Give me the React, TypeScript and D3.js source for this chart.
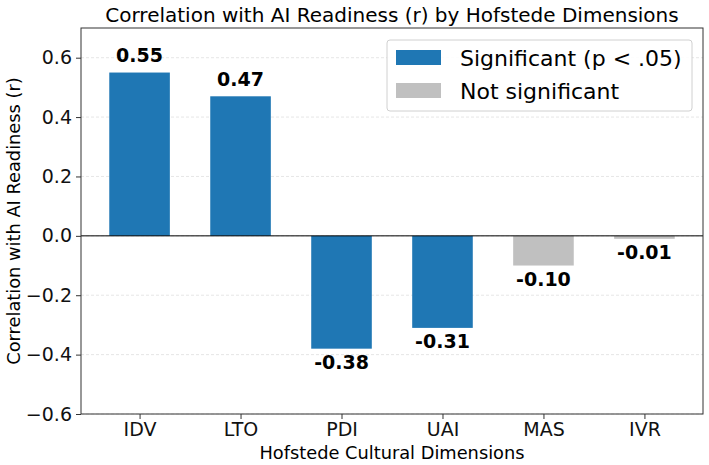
import React, { useEffect, useRef } from "react";
import * as d3 from "d3";

// Hofstede dimensions and their correlation with AI readiness
const dimensions = ["IDV", "LTO", "PDI", "UAI", "MAS", "IVR"];
const correlations = [0.55, 0.47, -0.38, -0.31, -0.1, -0.01];
const significant = [true, true, true, true, false, false];
const yTicks = [-0.6, -0.4, -0.2, 0.0, 0.2, 0.4, 0.6];
const legendLabels = ["Significant (p < .05)", "Not significant"];

const BLUE = "#1f77b4";
const GREY = "#c0c0c0";
const FONT = "DejaVu Sans, sans-serif";

export default function App() {
  const svgRef = useRef<SVGSVGElement>(null);

  useEffect(() => {
    const width = 709, height = 465;
    const margin = { top: 28, right: 6, bottom: 51, left: 81 };
    const svg = d3.select(svgRef.current).attr("width", width).attr("height", height);
    svg.selectAll("*").remove();

    const x = d3.scaleLinear().domain([-0.58, 5.58]).range([margin.left, width - margin.right]);
    const y = d3.scaleLinear().domain([-0.6, 0.7]).range([height - margin.bottom, margin.top]);
    const barW = 0.6;

    // dashed grid lines behind the bars
    svg.append("g").selectAll("line").data(yTicks).join("line")
      .attr("x1", x.range()[0]).attr("x2", x.range()[1])
      .attr("y1", d => y(d)).attr("y2", d => y(d))
      .attr("stroke", "#b0b0b0").attr("stroke-opacity", 0.4)
      .attr("stroke-dasharray", "3,2").attr("stroke-width", 0.8);

    // bars
    svg.append("g").selectAll("rect").data(correlations).join("rect")
      .attr("x", (d, i) => x(i - barW / 2))
      .attr("width", (d, i) => x(i + barW / 2) - x(i - barW / 2))
      .attr("y", d => y(Math.max(0, d)))
      .attr("height", d => Math.abs(y(d) - y(0)))
      .attr("fill", (d, i) => (significant[i] ? BLUE : GREY));

    // zero line
    svg.append("line")
      .attr("x1", x.range()[0]).attr("x2", x.range()[1])
      .attr("y1", y(0)).attr("y2", y(0))
      .attr("stroke", "black").attr("stroke-width", 1);

    // value labels
    svg.append("g").selectAll("text").data(correlations).join("text")
      .attr("x", (d, i) => x(i))
      .attr("y", d => (d >= 0 ? y(d) - 10.5 : y(d) + 20))
      .attr("text-anchor", "middle")
      .attr("font-family", FONT).attr("font-size", 19).attr("font-weight", "bold")
      .text(d => d.toFixed(2));

    // axes
    const xAxis = svg.append("g")
      .attr("transform", `translate(0,${height - margin.bottom})`)
      .call(d3.axisBottom(x).tickValues(d3.range(dimensions.length)).tickFormat(i => dimensions[i as number]).tickSize(5).tickPadding(4));
    const yAxis = svg.append("g")
      .attr("transform", `translate(${margin.left},0)`)
      .call(d3.axisLeft(y).tickValues(yTicks).tickFormat(d => d3.format(".1f")(d as number).replace("-", "\u2212")).tickSize(5).tickPadding(4));
    [xAxis, yAxis].forEach(a => {
      a.select(".domain").remove();
      a.selectAll("line").attr("stroke", "#333");
      a.selectAll("text").attr("font-family", FONT).attr("font-size", 19).attr("fill", "#111");
    });

    // frame
    svg.append("rect")
      .attr("x", x.range()[0]).attr("y", margin.top)
      .attr("width", x.range()[1] - x.range()[0]).attr("height", height - margin.bottom - margin.top)
      .attr("fill", "none").attr("stroke", "#333").attr("stroke-width", 1);

    // title and axis labels
    svg.append("text")
      .attr("x", (x.range()[0] + x.range()[1]) / 2).attr("y", 22)
      .attr("text-anchor", "middle").attr("font-family", FONT).attr("font-size", 20)
      .text("Correlation with AI Readiness (r) by Hofstede Dimensions");
    svg.append("text")
      .attr("x", (x.range()[0] + x.range()[1]) / 2).attr("y", 459)
      .attr("text-anchor", "middle").attr("font-family", FONT).attr("font-size", 17.8)
      .text("Hofstede Cultural Dimensions");
    svg.append("text")
      .attr("transform", `translate(20,${(y.range()[0] + y.range()[1]) / 2}) rotate(-90)`)
      .attr("text-anchor", "middle").attr("font-family", FONT).attr("font-size", 17.8)
      .text("Correlation with AI Readiness (r)");

    // legend
    const legend = svg.append("g").attr("transform", "translate(387,40)");
    legend.append("rect")
      .attr("width", 305).attr("height", 71).attr("rx", 3)
      .attr("fill", "white").attr("fill-opacity", 0.9)
      .attr("stroke", "#d0d0d0").attr("stroke-width", 1);
    const items = legend.selectAll("g.item").data(legendLabels).join("g")
      .attr("class", "item")
      .attr("transform", (d, i) => `translate(9,${10 + i * 33})`);
    items.append("rect")
      .attr("width", 45).attr("height", 15)
      .attr("fill", (d, i) => (i === 0 ? BLUE : GREY));
    items.append("text")
      .attr("x", 64).attr("y", 15.5)
      .attr("font-family", FONT).attr("font-size", 22)
      .text(d => d);
  }, []);

  return (
    <svg ref={svgRef} style={{ position: "absolute", left: 0, top: 0 }}></svg>
  );
}
